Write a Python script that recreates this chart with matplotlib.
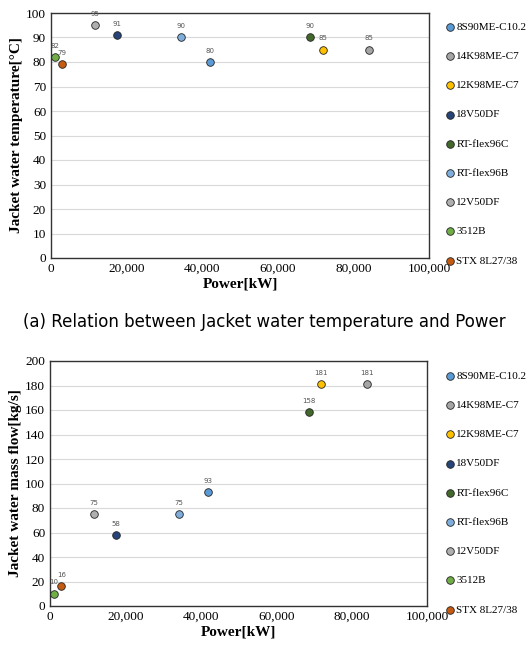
import matplotlib
matplotlib.use("Agg")
import matplotlib.pyplot as plt

names = ["8S90ME-C10.2", "14K98ME-C7", "12K98ME-C7", "18V50DF", "RT-flex96C",
         "RT-flex96B", "12V50DF", "3512B", "STX 8L27/38"]
power = [42000, 84000, 72000, 17500, 68600, 34300, 11700, 1000, 3000]
temp = [80, 85, 85, 91, 90, 90, 95, 82, 79]
flow = [93, 181, 181, 58, 158, 75, 75, 10, 16]
colors = ["#5B9BD5", "#A5A5A5", "#FFC000", "#264478", "#43682B",
          "#7FAEDC", "#AFAFAF", "#70AD47", "#C55A11"]

fig = plt.figure(figsize=(5.29, 6.53), dpi=100)
W, H = 529, 653
serif = "Liberation Serif"

def make(axrect, yvals, ylim, ystep, ylabel, legtop):
    l, t, r, b = axrect
    ax = fig.add_axes([l / W, 1 - b / H, (r - l) / W, (b - t) / H])
    for n, x, y, c in zip(names, power, yvals, colors):
        ax.scatter([x], [y], s=30, color=c, edgecolors="#222222", linewidths=0.6,
                   zorder=3, label=n)
        ax.annotate(str(y), (x, y), xytext=(0, 6), textcoords="offset points",
                    ha="center", va="bottom", fontsize=5, color="#555555")
    ax.set_xlim(0, 100000)
    ax.set_ylim(0, ylim)
    ax.set_yticks(range(0, ylim + 1, ystep))
    ax.set_xticks(range(0, 100001, 20000))
    ax.set_xticklabels([f"{v:,}" for v in range(0, 100001, 20000)])
    ax.grid(axis="y", color="#D9D9D9", linewidth=0.8)
    ax.set_axisbelow(True)
    ax.tick_params(length=0, labelsize=9.5)
    for lab in ax.get_xticklabels() + ax.get_yticklabels():
        lab.set_fontfamily(serif)
    for s in ax.spines.values():
        s.set_color("#333333")
        s.set_linewidth(1.0)
    ax.set_xlabel("Power[kW]", fontsize=11, fontweight="bold", family=serif, labelpad=2)
    ax.set_ylabel(ylabel, fontsize=11, fontweight="bold", family=serif, labelpad=2)
    fig.legend(*ax.get_legend_handles_labels(), loc="upper left",
               bbox_to_anchor=(443 / W, 1 - legtop / H), frameon=False,
               prop={"family": serif, "size": 8}, labelspacing=1.75,
               handletextpad=0.0, handlelength=1.2, borderaxespad=0, borderpad=0)
    return ax

make((51, 13, 429, 258), temp, 100, 10, "Jacket water temperature[\u00b0C]", 22)
make((50, 361, 427, 606), flow, 200, 20, "Jacket water mass flow[kg/s]", 371)

fig.text(264 / W, 1 - 322 / H, "(a) Relation between Jacket water temperature and Power",
         ha="center", va="center", fontsize=12, family="DejaVu Sans")

fig.savefig("out.png", dpi=100)
